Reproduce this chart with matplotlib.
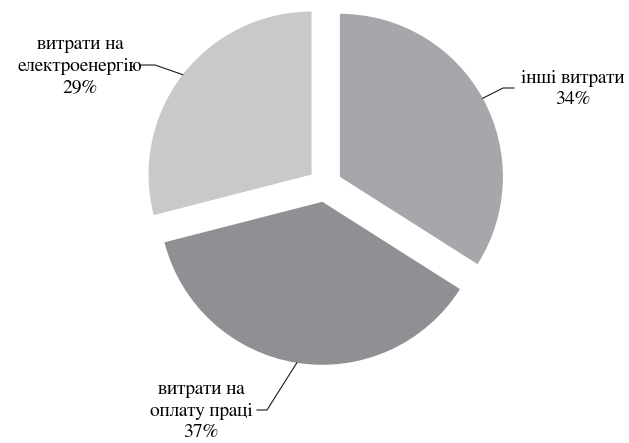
import numpy as np
import matplotlib
matplotlib.use("Agg")
import matplotlib.pyplot as plt

# Data
labels = ["інші витрати", "витрати на\nоплату праці", "витрати на\nелектроенергію"]
shares = [34, 37, 29]
colors = ["#a6a7aa", "#8f9093", "#c8c9cb"]

W, H = 629, 443

fig = plt.figure(figsize=(W / 100, H / 100), dpi=100)
ax = fig.add_axes([0, 0, 1, 1])

# pixel-like coordinates, y up
cx, cy, r = 325, H - 185, 163
wedges, _ = ax.pie(shares, colors=colors, startangle=90, counterclock=False,
                   explode=[17] * 3, radius=r, center=(cx, cy),
                   wedgeprops=dict(linewidth=0))
ax.set_xlim(0, W)
ax.set_ylim(0, H)
ax.set_aspect('equal')
ax.axis('off')

# label layout: text centre, line start (next to text), elbow
layout = [
    dict(pos=(573, 89), start=(514, 88), elbow=(503, 88)),
    dict(pos=(201, 411), start=(257, 410), elbow=(267, 410)),
    dict(pos=(80, 66), start=(141, 65), elbow=(155, 65)),
]

for w, lab, val, lay in zip(wedges, labels, shares, layout):
    mid = np.deg2rad((w.theta1 + w.theta2) / 2)
    ax_x = w.center[0] + w.r * np.cos(mid)
    ax_y = w.center[1] + w.r * np.sin(mid)
    tx, ty = lay['pos']
    fig.text(tx / W, 1 - ty / H, f"{lab}\n{val}%", ha='center', va='center',
             fontsize=14, family='FreeSerif', linespacing=1.3, color='black')
    xs = [lay['start'][0], lay['elbow'][0], ax_x]
    ys = [H - lay['start'][1], H - lay['elbow'][1], ax_y]
    ax.plot(xs, ys, color='#1a1a1a', linewidth=0.8)

fig.savefig("out.png", dpi=100)
